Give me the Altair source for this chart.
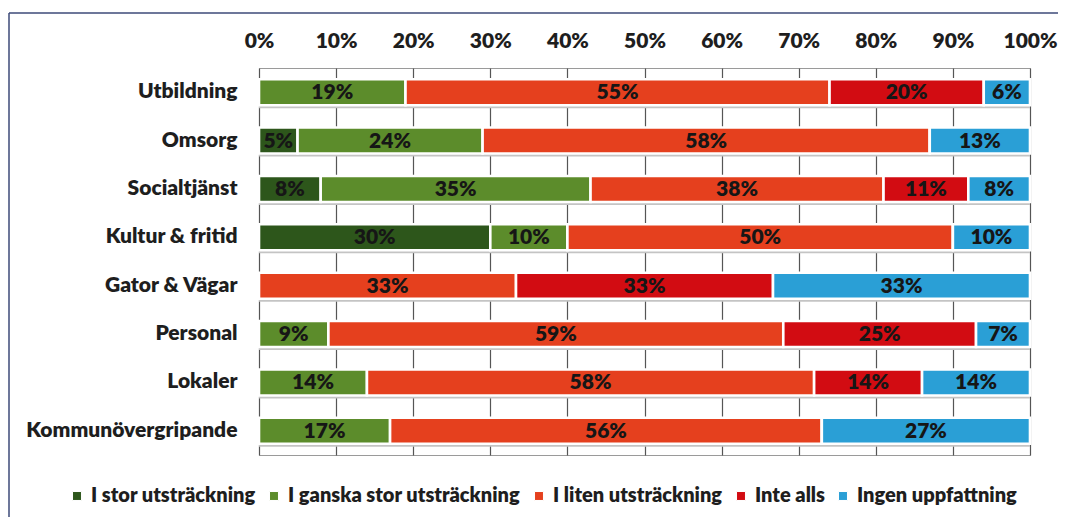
import altair as alt
import pandas as pd

categories = ["Utbildning", "Omsorg", "Socialtjänst", "Kultur & fritid",
              "Gator & Vägar", "Personal", "Lokaler", "Kommunövergripande"]
series = ["I stor utsträckning", "I ganska stor utsträckning",
          "I liten utsträckning", "Inte alls", "Ingen uppfattning"]
i_stor = [0, 5, 8, 30, 0, 0, 0, 0]
i_ganska = [19, 24, 35, 10, 0, 9, 14, 17]
i_liten = [55, 58, 38, 50, 33, 59, 58, 56]
inte_alls = [20, 0, 11, 0, 33, 25, 14, 0]
ingen = [6, 13, 8, 10, 33, 7, 14, 27]
colors = ["#2d561b", "#5c8c2b", "#e5401e", "#d20c12", "#2a9fd6"]
x_ticks = [0, 0.1, 0.2, 0.3, 0.4, 0.5, 0.6, 0.7, 0.8, 0.9, 1.0]

values_by_series = [i_stor, i_ganska, i_liten, inte_alls, ingen]
rows = []
for si, (s, vals) in enumerate(zip(series, values_by_series)):
    for ci, c in enumerate(categories):
        rows.append({"cat": c, "series": s, "order": si, "value": vals[ci]})
df = pd.DataFrame(rows)
shadow_df = pd.DataFrame({"cat": categories, "lo": [0.0] * len(categories), "hi": [1.0] * len(categories)})
frame_df = pd.DataFrame({"a": [0]})

FONT = "Lato"
FS = 21
W, H = 771, 387

yenc = alt.Y("cat:N", sort=categories,
             scale=alt.Scale(domain=categories, paddingInner=0, paddingOuter=0),
             axis=alt.Axis(title=None, ticks=False, domain=False, labelPadding=22,
                           labelFont=FONT, labelFontSize=FS, labelFontWeight=800,
                           labelColor="#1e1e1e", grid=False, labelLimit=400))

xscale = alt.Scale(domain=[0, 1], nice=False, zero=True)
xaxis = alt.Axis(title=None, orient="top", values=x_ticks, format=".0%", ticks=False,
                 domain=False, labelPadding=17, labelFont=FONT, labelFontSize=FS,
                 labelFontWeight=800, labelColor="#1e1e1e", grid=True,
                 gridColor="#555555", gridWidth=1.2, labelFlush=False)

stacked = alt.Chart(df).transform_stack(
    stack="value", groupby=["cat"], as_=["v0", "v1"], offset="normalize",
    sort=[alt.SortField("order", "ascending")]
)

shadow = alt.Chart(shadow_df).mark_bar(size=26, yOffset=3, color="#c4c4c4").encode(
    y=yenc,
    x=alt.X("lo:Q", scale=xscale, axis=xaxis),
    x2="hi:Q",
)

bars = stacked.mark_bar(size=26, stroke="white", strokeWidth=2.6).encode(
    y=yenc,
    x=alt.X("v0:Q", scale=xscale, axis=xaxis),
    x2="v1:Q",
    color=alt.Color("series:N", sort=series,
                    scale=alt.Scale(domain=series, range=colors),
                    legend=alt.Legend(title=None, orient="none", legendX=-192, legendY=418,
                                      direction="horizontal", columns=5, columnPadding=8,
                                      symbolType="square", symbolSize=80,
                                      symbolStrokeWidth=1, symbolOffset=0,
                                      labelFont=FONT, labelFontSize=20,
                                      labelFontWeight=800, labelColor="#1e1e1e",
                                      labelOffset=4, labelLimit=400)),
)

labels = stacked.transform_filter("datum.value > 0").transform_calculate(
    mid="(datum.v0 + datum.v1) / 2",
    lab="datum.value + '%'"
).mark_text(font=FONT, fontSize=FS, fontWeight=800, color="#161616",
            baseline="middle", align="center", dy=1).encode(
    y=alt.Y("cat:N", sort=categories),
    x=alt.X("mid:Q", scale=xscale),
    text="lab:N",
)

frame_top = alt.Chart(frame_df).mark_rule(color="#3c4a78", strokeWidth=1.5).encode(
    x=alt.value(-250), x2=alt.value(799), y=alt.value(-55)
)
frame_left = alt.Chart(frame_df).mark_rule(color="#3c4a78", strokeWidth=1.5).encode(
    x=alt.value(-250), y=alt.value(-55), y2=alt.value(449)
)

chart = alt.layer(shadow, bars, labels, frame_top, frame_left).properties(
    width=W, height=H,
    autosize=alt.AutoSizeParams(type="none"),
    padding={"left": 251, "top": 60, "right": 29, "bottom": 62},
    background="white",
).configure_view(stroke="#9a9a9a", strokeWidth=1)

chart.save("out.html", embed_options={"renderer": "svg", "actions": False})
